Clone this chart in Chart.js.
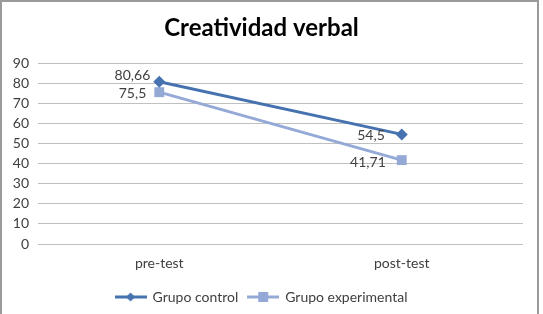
<!DOCTYPE html>
<html><head><meta charset="utf-8">
<script src="https://cdn.jsdelivr.net/npm/chart.js@4"></script>
<style>
html,body{margin:0;padding:0;background:#fff;}
#wrap{position:absolute;left:0;top:0;width:543px;height:314px;}
</style></head>
<body><div id="wrap"><canvas id="c" width="543" height="314"></canvas></div>
<script>
const categories = ["pre-test", "post-test"];
const seriesNames = ["Grupo control", "Grupo experimental"];
const controlValues = [80.66, 54.5];
const experimentalValues = [75.5, 41.71];
const yTicks = [0, 10, 20, 30, 40, 50, 60, 70, 80, 90];

const FONT = "Lato, 'Open Sans', sans-serif";
const C1 = "#4672B0", C2 = "#95A9D7";

function legendImg(color, shape){
  const c = document.createElement('canvas'); c.width = 32; c.height = 12;
  const x = c.getContext('2d');
  x.strokeStyle = color; x.lineWidth = 3;
  x.beginPath(); x.moveTo(0,6); x.lineTo(32,6); x.stroke();
  x.fillStyle = color;
  if (shape === 'diamond'){ x.beginPath(); x.moveTo(16,1.5); x.lineTo(20.5,6); x.lineTo(16,10.5); x.lineTo(11.5,6); x.closePath(); x.fill(); }
  else { x.fillRect(11,1,10,10); }
  return c;
}

const fmt = v => String(v).replace('.', ',');

const labelPlugin = {
  id: 'dataLabels',
  afterDatasetsDraw(chart){
    const ctx = chart.ctx;
    ctx.save();
    ctx.font = "14px " + FONT;
    ctx.fillStyle = "#404040";
    ctx.textAlign = "right";
    ctx.textBaseline = "middle";
    const offs = [[[-9,-6],[-17,1]],[[-13,1],[-16,2]]];
    chart.data.datasets.forEach((ds, di) => {
      const meta = chart.getDatasetMeta(di);
      meta.data.forEach((pt, i) => {
        const o = offs[di][i];
        ctx.fillText(fmt(ds.data[i]), pt.x + o[0], pt.y + o[1]);
      });
    });
    ctx.restore();
  }
};

const borderPlugin = {
  id: 'outerBorder',
  afterDraw(chart){
    const ctx = chart.ctx;
    ctx.save();
    ctx.strokeStyle = "#9a9a9a"; ctx.lineWidth = 2;
    ctx.strokeRect(1, 1, 537, 340);
    ctx.restore();
  }
};

new Chart(document.getElementById('c'), {
  type: 'line',
  data: {
    labels: categories,
    datasets: [
      { label: seriesNames[0], data: controlValues, borderColor: C1, backgroundColor: C1,
        borderWidth: 3, pointStyle: 'rectRot', pointRadius: 6, pointHoverRadius: 6, pointBorderWidth: 0 },
      { label: seriesNames[1], data: experimentalValues, borderColor: C2, backgroundColor: C2,
        borderWidth: 3, pointStyle: 'rect', pointRadius: 7, pointHoverRadius: 7, pointBorderWidth: 0 }
    ]
  },
  options: {
    responsive: false, animation: false,
    layout: { padding: { top: 0, right: 20, bottom: 0, left: 0 } },
    plugins: {
      title: { display: true, text: "Creatividad verbal", color: "#000",
        font: { family: FONT, size: 24, weight: 'bold', lineHeight: 1.2 },
        padding: { top: 14, bottom: 20.2 } },
      legend: { position: 'bottom',
        labels: { usePointStyle: true, pointStyleWidth: 30, padding: 10, color: "#404040",
          font: { family: FONT, size: 14 },
          generateLabels(chart){
            return chart.data.datasets.map((ds, i) => ({
              text: ds.label, fillStyle: ds.borderColor, strokeStyle: ds.borderColor,
              lineWidth: 0, pointStyle: legendImg(ds.borderColor, i === 0 ? 'diamond' : 'square'),
              datasetIndex: i, hidden: false, fontColor: "#404040"
            }));
          } } },
      tooltip: { enabled: false }
    },
    scales: {
      x: { offset: true,
        grid: { display: false, drawTicks: false },
        border: { display: false },
        ticks: { color: "#404040", font: { family: FONT, size: 14 }, padding: 11 },
        afterFit(s){ s.height = 36; } },
      y: { min: 0, max: 90,
        afterBuildTicks(s){ s.ticks = yTicks.map(v => ({ value: v })); },
        grid: { color: "#c0c0c0", lineWidth: 1, drawTicks: false },
        border: { display: false },
        ticks: { color: "#404040", font: { family: FONT, size: 14 }, padding: 9 },
        afterFit(s){ s.width = 38; } }
    }
  },
  plugins: [labelPlugin, borderPlugin]
});
</script></body></html>
